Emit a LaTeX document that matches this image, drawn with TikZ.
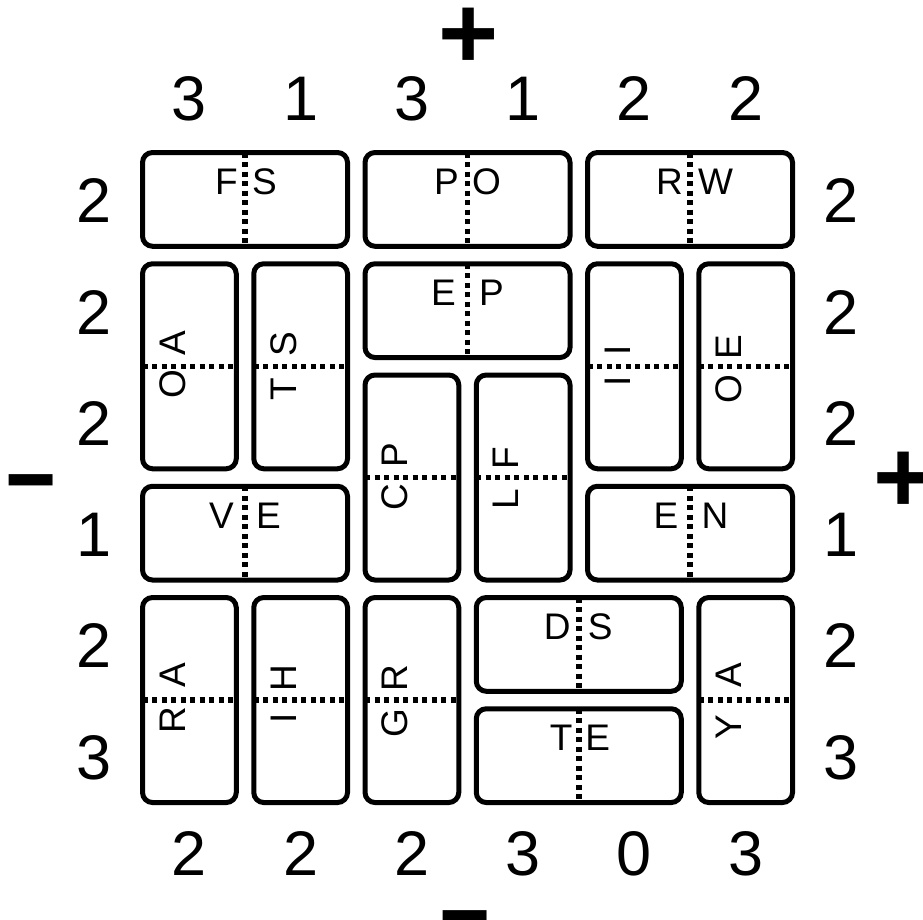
\documentclass[tikz,border=0pt]{standalone}
\usepackage{fontspec}
\usepackage{graphicx}
\setmainfont{Liberation Sans}
\tikzset{
  dombox/.style={draw, line width=5pt, rounded corners=10pt, inner sep=0pt, outer sep=0pt},
  hbox/.style={dombox, minimum width=205pt, minimum height=93.75pt},
  vbox/.style={dombox, minimum width=93.75pt, minimum height=205pt},
  divider/.style={line width=5.5pt, dash pattern=on 5pt off 4.5pt},
  letter/.style={inner sep=0pt, anchor=base, font=\fontsize{37}{40}\selectfont},
  clue/.style={inner sep=0pt, anchor=base, font=\fontsize{63}{70}\selectfont},
  sign/.style={inner sep=0pt, anchor=base, font=\fontsize{103}{110}\selectfont\bfseries},
}
% horizontal domino: name, col, row, letter1, x-offset1, letter2, x-offset2
\newcommand\hdom[7]{%
  \node[hbox] (#1) at ({140+#2*111.25+105},{150+#3*111.25+49.375}) {};
  \draw[divider] (#1.north) -- (#1.south);
  \node[letter] (#1a) at ([shift={(#5,42)}]#1.north) {#4};
  \node[letter] (#1b) at ([shift={(#7,42)}]#1.north) {#6};
}
% vertical domino: name, col, row, letter1, y-offset1, letter2, y-offset2
\newcommand\vdom[7]{%
  \node[vbox] (#1) at ({140+#2*111.25+49.375},{150+#3*111.25+105}) {};
  \draw[divider] (#1.west) -- (#1.east);
  \node[letter, rotate=90] (#1a) at ([shift={(42.5,#5)}]#1.west) {#4};
  \node[letter, rotate=90] (#1b) at ([shift={(42.5,#7)}]#1.west) {#6};
}
\begin{document}
\begin{tikzpicture}[x=1pt,y=-1pt]
\useasboundingbox (0,0) rectangle (923,919);
% dominoes
\hdom{FS}{0}{0}{F}{-18.5}{S}{19.5}
\hdom{PO}{2}{0}{P}{-21}{O}{19}
\hdom{RW}{4}{0}{R}{-20.5}{W}{25.5}
\vdom{OA}{0}{1}{O}{18}{A}{-23}
\vdom{TS}{1}{1}{T}{23}{S}{-22}
\hdom{EP}{2}{1}{E}{-24}{P}{24}
\vdom{II}{4}{1}{I}{15}{I}{-16}
\vdom{OE}{5}{1}{O}{22.5}{E}{-19.5}
\vdom{CP}{2}{2}{C}{20}{P}{-22}
\vdom{LF}{3}{2}{L}{22}{F}{-19.5}
\hdom{VE}{0}{3}{V}{-23.5}{E}{23.5}
\hdom{EN}{4}{3}{E}{-24}{N}{25}
\vdom{RA}{0}{4}{R}{20.5}{A}{-24.5}
\vdom{IH}{1}{4}{I}{18}{H}{-21.5}
\vdom{GR}{2}{4}{G}{23.5}{R}{-21.5}
\hdom{DS}{3}{4}{D}{-21.5}{S}{21.5}
\hdom{TE}{3}{5}{T}{-17.5}{E}{19}
\vdom{YA}{5}{4}{Y}{27.5}{A}{-24.5}
% clues
\foreach \v [count=\i from 0] in {3,1,3,1,2,2}
  \node[clue] (t\i) at ({140+\i*111.25+49.375},120) {\v};
\foreach \v [count=\i from 0] in {2,2,2,3,0,3}
  \node[clue] (b\i) at ({140+\i*111.25+49.375},875) {\v};
\foreach \v [count=\i from 0] in {2,2,2,1,2,3}
  \node[clue] (l\i) at (94,{150+\i*111.25+49.375+23.5}) {\v};
\foreach \v [count=\i from 0] in {2,2,2,1,2,3}
  \node[clue] (r\i) at (841,{150+\i*111.25+49.375+23.5}) {\v};
% signs
\node[sign] (topplus) at (469,68) {+};
\node[sign] (rightplus) at (904,512.5) {+};
\node[sign] (leftminus) at (31.5,514.5) {\scalebox{0.85}[1]{−}};
\node[sign] (bottomminus) at (465.5,950.5) {\scalebox{0.85}[1]{−}};
\end{tikzpicture}
\end{document}
